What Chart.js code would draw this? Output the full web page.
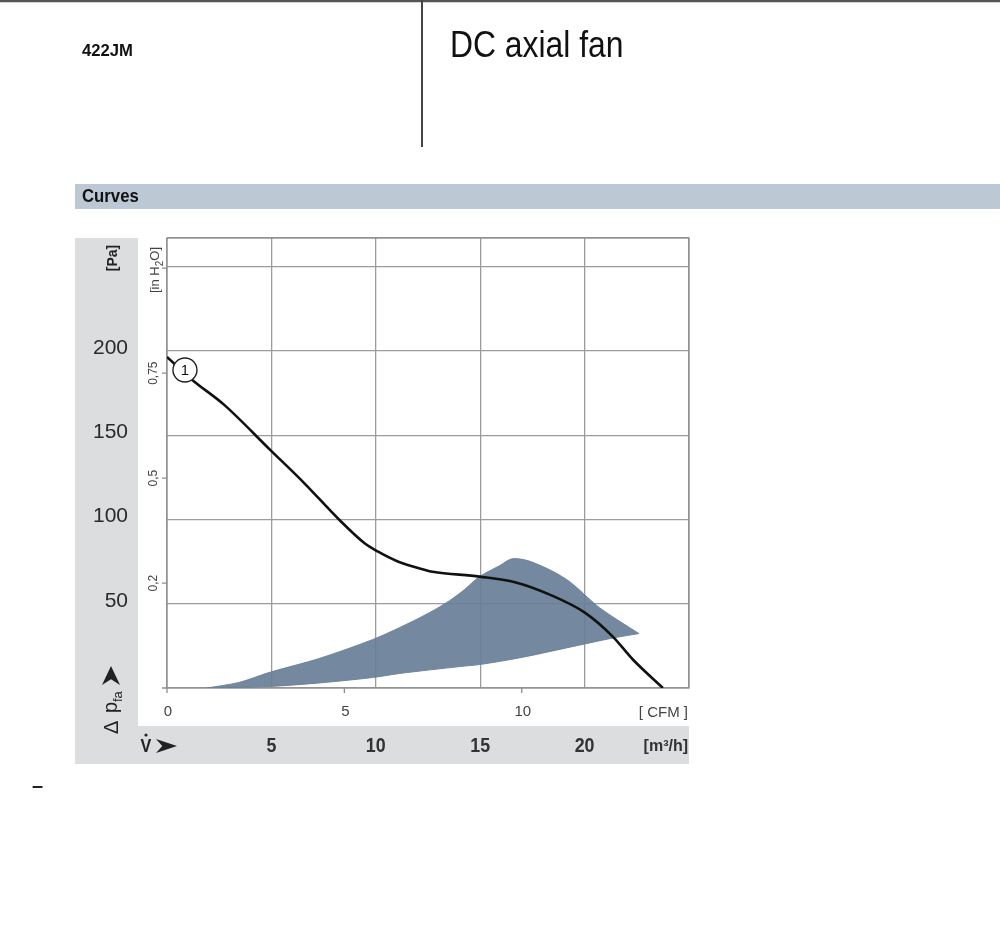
<!DOCTYPE html>
<html>
<head>
<meta charset="utf-8">
<title>422JM DC axial fan</title>
<script src="https://cdn.jsdelivr.net/npm/chart.js@4.4.1/dist/chart.umd.min.js"></script>
<style>
  html, body { margin: 0; padding: 0; background: #fff; }
  #wrap { width: 1000px; height: 932px; }
</style>
</head>
<body>
<div id="wrap"><canvas id="fanChart" width="1000" height="932"></canvas></div>
<script>
// characteristic curve 1: flow in m3/h, static pressure in Pa
const curveFlow = [0, 1.21, 2.74, 4.94, 6.57, 8.25, 9.45, 10.09, 11.05, 12.33, 12.72, 14.97, 16.75, 18.33, 20.01, 21.35, 22.31, 23.75];
const curvePressure = [196.4, 182.8, 168.0, 141.3, 121.6, 99.8, 86.0, 81.0, 75.1, 70.2, 69.0, 66.1, 62.5, 55.4, 44.7, 30.5, 16.9, 0];

// recommended operating range (upper and lower edge)
const rangeUpperFlow = [1.92, 3.45, 4.89, 7.29, 9.84, 11.13, 12.57, 13.53, 14.25, 14.97, 15.93, 16.55, 17.51, 19.15, 20.73, 22.6];
const rangeUpperPressure = [0, 3.3, 9.2, 17.5, 28.7, 35.8, 44.7, 51.8, 58.4, 66.1, 72.6, 76.7, 74.6, 64.3, 47.5, 32.3];
const rangeLowerFlow = [1.92, 4.89, 7.29, 9.84, 11.13, 14.01, 14.97, 16.89, 19.13, 21.37, 22.6];
const rangeLowerPressure = [0, 0.9, 3.0, 6.2, 8.6, 12.7, 13.9, 17.9, 23.8, 29.7, 32.3];

// curve number marker
const markerFlow = [0.86];
const markerPressure = [188.7];
const markerLabels = ['1'];

// axis ticks
const flowTicks = [5, 10, 15, 20];            // m3/h
const cfmTicks = [0, 5, 10];                  // CFM
const paTicks = [50, 100, 150, 200];          // Pa
const inh2oTicks = [0.25, 0.5, 0.75, 1.0];    // in H2O (tick marks)
const inh2oLabels = ['0,2', '0,5', '0,75', ''];

const CFM_TO_M3H = 1.699;
const INH2O_TO_PA = 249.09;

const REG = '"Liberation Sans", Arial, sans-serif';

function pts(xs, ys) {
  return xs.map((x, i) => ({ x: x, y: ys[i] }));
}

function arrowHead(ctx, x, y, len, half) {
  // arrow pointing along +x of the current frame
  ctx.beginPath();
  ctx.moveTo(x + len, y);
  ctx.lineTo(x, y - half);
  ctx.lineTo(x + len * 0.3, y);
  ctx.lineTo(x, y + half);
  ctx.closePath();
  ctx.fill();
}

// condensed text: squeeze horizontally
function narrowText(ctx, str, x, y, sx) {
  ctx.save();
  ctx.translate(x, y);
  ctx.scale(sx, 1);
  ctx.fillText(str, 0, 0);
  ctx.restore();
}

const sheet = {
  id: 'sheet',
  beforeDraw(chart) {
    const ctx = chart.ctx;
    const a = chart.chartArea;
    ctx.save();
    ctx.fillStyle = '#fff';
    ctx.fillRect(0, 0, chart.width, chart.height);

    // header frame
    ctx.strokeStyle = '#555';
    ctx.lineWidth = 2.5;
    ctx.beginPath();
    ctx.moveTo(0, 1); ctx.lineTo(1000, 1);
    ctx.stroke();
    ctx.lineWidth = 2;
    ctx.strokeStyle = '#444';
    ctx.beginPath();
    ctx.moveTo(422, 0); ctx.lineTo(422, 147);
    ctx.stroke();

    ctx.fillStyle = '#111';
    ctx.textAlign = 'left';
    ctx.textBaseline = 'middle';
    ctx.font = 'bold 17px ' + REG;
    narrowText(ctx, '422JM', 82, 51, 0.98);
    ctx.textBaseline = 'alphabetic';
    ctx.font = '36px ' + REG;
    narrowText(ctx, 'DC axial fan', 450, 57, 0.885);

    // section bar
    ctx.fillStyle = '#bdc8d5';
    ctx.fillRect(75, 184, 925, 25);
    ctx.fillStyle = '#111';
    ctx.textBaseline = 'middle';
    ctx.font = 'bold 18px ' + REG;
    narrowText(ctx, 'Curves', 82, 197, 0.93);

    // chart panel
    ctx.fillStyle = '#dcdddf';
    ctx.fillRect(75, a.top, a.right - 75, 764 - a.top);
    ctx.fillStyle = '#fff';
    ctx.fillRect(138, a.top, a.right - 138, 726 - a.top);

    // small dash under the panel
    ctx.fillStyle = '#222';
    ctx.font = 'bold 20px ' + REG;
    ctx.fillText('\u2013', 32, 786);
    ctx.restore();
  },
  beforeDatasetsDraw(chart) {
    const ctx = chart.ctx;
    const a = chart.chartArea;
    const x = chart.scales.x;
    const y = chart.scales.y;
    ctx.save();
    ctx.strokeStyle = '#8f8f8f';
    ctx.lineWidth = 1.3;
    ctx.strokeRect(a.left, a.top, a.right - a.left, a.bottom - a.top);
    ctx.beginPath();
    ctx.moveTo(a.left - 5, a.bottom); ctx.lineTo(a.left, a.bottom);
    cfmTicks.forEach(v => {
      const px = x.getPixelForValue(v * CFM_TO_M3H);
      ctx.moveTo(px, a.bottom); ctx.lineTo(px, a.bottom + 5);
    });
    inh2oTicks.forEach(v => {
      const py = y.getPixelForValue(v * INH2O_TO_PA);
      ctx.moveTo(a.left - 5, py); ctx.lineTo(a.left, py);
    });
    ctx.stroke();
    ctx.restore();
  },
  afterDatasetsDraw(chart) {
    const ctx = chart.ctx;
    const a = chart.chartArea;
    const x = chart.scales.x;
    const y = chart.scales.y;
    ctx.save();

    // curve number in the marker circle
    const meta = chart.getDatasetMeta(0);
    ctx.fillStyle = '#111';
    ctx.font = '15px ' + REG;
    ctx.textAlign = 'center';
    ctx.textBaseline = 'middle';
    meta.data.forEach((p, i) => ctx.fillText(markerLabels[i], p.x, p.y + 1));

    // Pa labels (grey strip)
    ctx.fillStyle = '#2a2a2a';
    ctx.textAlign = 'right';
    ctx.font = '21px ' + REG;
    paTicks.forEach(v => ctx.fillText(String(v), 128, y.getPixelForValue(v) - 3));

    // m3/h labels (bottom strip)
    ctx.textAlign = 'center';
    ctx.fillStyle = '#333';
    ctx.font = 'bold 21px ' + REG;
    flowTicks.forEach(v => narrowText(ctx, String(v), x.getPixelForValue(v), 746, 0.85));
    ctx.textAlign = 'right';
    ctx.font = 'bold 16px ' + REG;
    ctx.fillText('[m\u00b3/h]', a.right - 1, 747);

    // CFM labels
    ctx.textAlign = 'center';
    ctx.fillStyle = '#444';
    ctx.font = '15px ' + REG;
    cfmTicks.forEach(v => ctx.fillText(String(v), x.getPixelForValue(v * CFM_TO_M3H) + 1, 712));
    ctx.textAlign = 'right';
    ctx.fillText('[ CFM ]', a.right - 1, 713);

    // in H2O labels (rotated)
    ctx.font = '12px ' + REG;
    inh2oTicks.forEach((v, i) => {
      if (!inh2oLabels[i]) return;
      ctx.save();
      ctx.translate(154, y.getPixelForValue(v * INH2O_TO_PA));
      ctx.rotate(-Math.PI / 2);
      ctx.textAlign = 'center';
      ctx.fillText(inh2oLabels[i], 0, 0);
      ctx.restore();
    });
    // [in H2O] unit
    ctx.save();
    ctx.translate(155, 293);
    ctx.rotate(-Math.PI / 2);
    ctx.textAlign = 'left';
    ctx.font = '13px ' + REG;
    let w = ctx.measureText('[in H').width;
    ctx.fillText('[in H', 0, 0);
    ctx.font = '10px ' + REG;
    ctx.fillText('2', w, 5);
    w += ctx.measureText('2').width;
    ctx.font = '13px ' + REG;
    ctx.fillText('O]', w, 0);
    ctx.restore();

    // [Pa] unit
    ctx.save();
    ctx.translate(113, 258);
    ctx.rotate(-Math.PI / 2);
    ctx.textAlign = 'center';
    ctx.fillStyle = '#222';
    ctx.font = 'bold 14px ' + REG;
    ctx.fillText('[Pa]', 0, 0);
    ctx.restore();

    // Δ p_fa ➤ (rotated)
    ctx.save();
    ctx.translate(112, 734);
    ctx.rotate(-Math.PI / 2);
    ctx.fillStyle = '#222';
    ctx.textAlign = 'left';
    ctx.font = '20px ' + REG;
    ctx.fillText('\u0394', 0, 0);
    ctx.fillText('p', 21, -1);
    ctx.font = '13px ' + REG;
    ctx.fillText('fa', 32, 6);
    arrowHead(ctx, 49, -1, 19, 9);
    ctx.restore();

    // V̇ ➤
    ctx.fillStyle = '#222';
    ctx.textAlign = 'center';
    ctx.font = 'bold 19px ' + REG;
    narrowText(ctx, 'V', 146, 747, 0.85);
    ctx.beginPath();
    ctx.arc(146, 735, 1.6, 0, Math.PI * 2);
    ctx.fill();
    arrowHead(ctx, 156, 746, 21, 7);
    ctx.restore();
  }
};

const gridStyle = { color: '#9c9c9c', lineWidth: 1.3, drawTicks: false };
const rangeColor = 'rgba(104,127,152,0.92)';

new Chart(document.getElementById('fanChart'), {
  type: 'scatter',
  data: {
    datasets: [
      {
        label: 'marker',
        data: pts(markerFlow, markerPressure),
        pointRadius: 12,
        pointBackgroundColor: '#fff',
        pointBorderColor: '#222',
        pointBorderWidth: 1.4
      },
      {
        label: 'Curve 1',
        data: pts(curveFlow, curvePressure),
        showLine: true,
        borderColor: '#111',
        borderWidth: 2.6,
        pointRadius: 0,
        cubicInterpolationMode: 'monotone',
        fill: false
      },
      {
        label: 'range upper',
        data: pts(rangeUpperFlow, rangeUpperPressure),
        showLine: true,
        borderColor: rangeColor,
        borderWidth: 1,
        pointRadius: 0,
        tension: 0.3,
        backgroundColor: rangeColor,
        fill: '+1'
      },
      {
        label: 'range lower',
        data: pts(rangeLowerFlow, rangeLowerPressure),
        showLine: true,
        borderColor: rangeColor,
        borderWidth: 1,
        pointRadius: 0,
        tension: 0.3,
        fill: false
      }
    ]
  },
  options: {
    responsive: false,
    animation: false,
    layout: { padding: { left: 167, top: 238, right: 311, bottom: 244 } },
    plugins: { legend: { display: false }, tooltip: { enabled: false } },
    scales: {
      x: {
        type: 'linear', min: 0, max: 25,
        ticks: { display: false, stepSize: 5 },
        grid: gridStyle,
        border: { display: false }
      },
      y: {
        type: 'linear', min: 0, max: 267,
        ticks: { display: false, stepSize: 50 },
        grid: gridStyle,
        border: { display: false }
      }
    }
  },
  plugins: [sheet]
});
</script>
</body>
</html>
